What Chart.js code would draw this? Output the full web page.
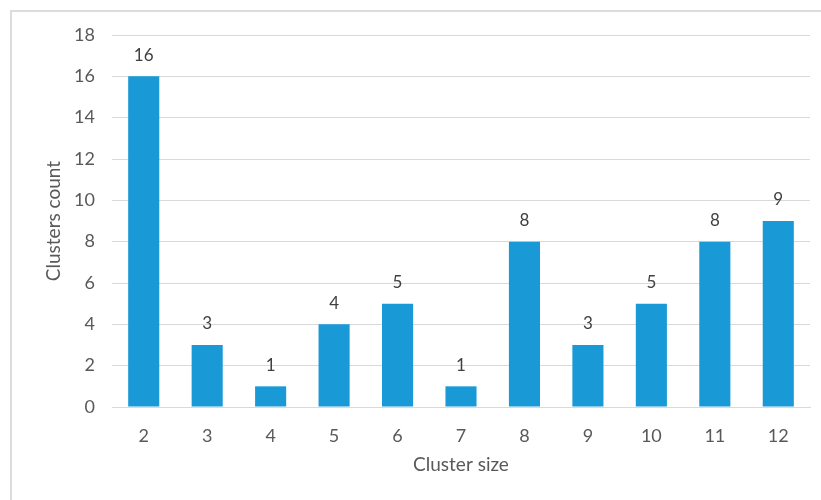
<!DOCTYPE html>
<html lang="en">
<head>
  <meta charset="UTF-8" />
  <title>Clusters count by cluster size</title>
  <script src="https://cdn.jsdelivr.net/npm/chart.js"></script>
  <style>
    html, body { margin: 0; padding: 0; background: #fff; overflow: hidden; }
    .frame {
      position: absolute; left: 10px; top: 10px;
      width: 840px; height: 520px;
      border: 2px solid #dcdcdc; box-sizing: border-box;
    }
    .chart-box { position: absolute; left: 12px; top: 12px; width: 809px; height: 488px; }
  </style>
</head>
<body>
  <div class="frame"></div>
  <div class="chart-box"><canvas id="clusterChart"></canvas></div>

  <script>
    // data
    const clusterSizes = ['2', '3', '4', '5', '6', '7', '8', '9', '10', '11', '12'];
    const clusterCounts = [16, 3, 1, 4, 5, 1, 8, 3, 5, 8, 9];
    const yTicks = [0, 2, 4, 6, 8, 10, 12, 14, 16, 18];

    const textColor = '#595959';
    const fontFamily = 'Lato, "Open Sans", sans-serif';

    // values above each bar
    const barLabels = {
      id: 'barLabels',
      afterDatasetsDraw(chart) {
        const { ctx } = chart;
        const meta = chart.getDatasetMeta(0);
        ctx.save();
        ctx.fillStyle = '#404040';
        ctx.font = '17px ' + fontFamily;
        ctx.textAlign = 'center';
        ctx.textBaseline = 'middle';
        meta.data.forEach((bar, i) => {
          ctx.fillText(String(clusterCounts[i]), bar.x, bar.y - 21);
        });
        ctx.restore();
      }
    };

    const ctx = document.getElementById('clusterChart').getContext('2d');
    new Chart(ctx, {
      type: 'bar',
      data: {
        labels: clusterSizes,
        datasets: [{
          data: clusterCounts,
          backgroundColor: '#199ad6',
          categoryPercentage: 1,
          barPercentage: 0.49
        }]
      },
      options: {
        responsive: true,
        maintainAspectRatio: false,
        animation: false,
        layout: { padding: { top: 23, right: 11, left: 0, bottom: 0 } },
        plugins: { legend: { display: false }, tooltip: { enabled: false } },
        scales: {
          x: {
            grid: { display: false, drawTicks: false },
            border: { display: true, color: '#d9d9d9', width: 1 },
            ticks: { color: textColor, padding: 18, font: { family: fontFamily, size: 18 } },
            title: {
              display: true, text: 'Cluster size', color: textColor,
              font: { family: fontFamily, size: 19 }, padding: { top: 0, bottom: 24 }
            },
            afterFit(scale) { scale.height = 93; scale.paddingLeft = 0; scale.paddingRight = 0; }
          },
          y: {
            min: 0, max: 18,
            afterBuildTicks(scale) { scale.ticks = yTicks.map(v => ({ value: v })); },
            grid: { color: '#d9d9d9', drawTicks: false },
            border: { display: false },
            ticks: { color: textColor, padding: 17, font: { family: fontFamily, size: 18 } },
            title: {
              display: true, text: 'Clusters count', color: textColor,
              font: { family: fontFamily, size: 19 }, padding: { top: 30, bottom: 0 }
            },
            afterFit(scale) { scale.width = 100; scale.paddingTop = 0; scale.paddingBottom = 0; }
          }
        }
      },
      plugins: [barLabels]
    });
  </script>
</body>
</html>
